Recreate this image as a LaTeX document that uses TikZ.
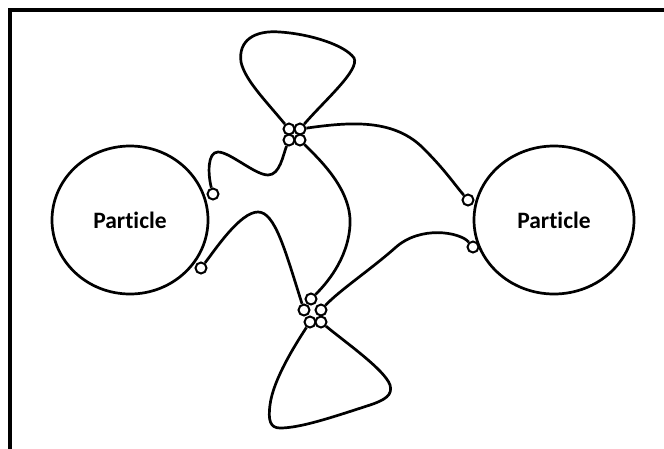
\documentclass[tikz,border=0pt]{standalone}
\usepackage{fontspec}
\setmainfont{Carlito}[Ligatures=NoCommon]
\usetikzlibrary{shapes.geometric}

\begin{document}
\begin{tikzpicture}[x=1pt,y=-1pt,line width=2.7pt,
  particle/.style={ellipse,draw,inner sep=0,minimum width=#1,minimum height=148pt,font=\fontsize{23.5}{28}\selectfont\bfseries},
  port/.style={circle,draw,fill=white,line width=2pt,inner sep=0,minimum size=11pt}]
\clip (0,0) rectangle (664,448);
\draw[line width=3.2pt] (10,480) |- (700,10);
\node [particle=156pt] (pl) at (130,220) {Particle};
\node [particle=160pt] (pr) at (554,220) {Particle};
  \foreach \nm/\px/\py in {l1/213/194,l2/201/268,r1/468/200,r2/473/247,
                           t1/289/129,t2/300/129,t3/289/140,t4/300/140,
                           b1/311/299,b2/304/310,b3/321/310,b4/310/322,b5/321/322}
  {  \node [port] (\nm) at (\px,\py) {};}
% loops
\draw (t1) .. controls (265,100) and (245,80) .. (241,62) .. controls (238,40) and (255,30) .. (280,32)
  .. controls (310,34) and (345,45) .. (354,58) .. controls (360,70) and (325,100) .. (t2);
\draw (b5) .. controls (345,342) and (385,370) .. (390,385) .. controls (393,395) and (385,400) .. (370,405)
  .. controls (330,418) and (300,428) .. (280,428) .. controls (270,428) and (268,420) .. (270,405)
  .. controls (273,380) and (295,345) .. (b4);
% links
\draw (t2) .. controls (350,122) and (395,118) .. (425,150) .. controls (445,170) and (455,185) .. (r1);
\draw (l1) .. controls (208,175) and (207,152) .. (218,152) .. controls (230,152) and (255,175) .. (268,175)
  .. controls (280,175) and (283,155) .. (t3);
\draw (t4) .. controls (320,160) and (352,190) .. (350,225) .. controls (348,260) and (325,285) .. (b1);
\draw (l2) .. controls (215,250) and (240,212) .. (258,212) .. controls (275,212) and (285,250) .. (b2);
\draw (r2) .. controls (460,232) and (420,225) .. (395,248) .. controls (370,270) and (340,290) .. (b3);
\end{tikzpicture}
\end{document}
